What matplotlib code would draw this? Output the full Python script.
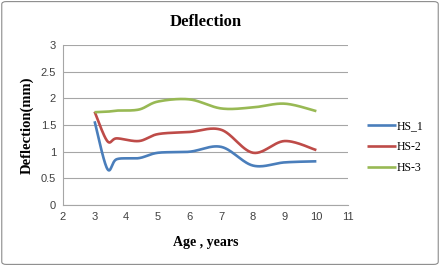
import matplotlib
matplotlib.use('Agg')
import matplotlib.pyplot as plt
import numpy as np
from matplotlib.patches import FancyBboxPatch

age = [3, 3.4, 3.7, 4.4, 5, 6, 7, 8, 9, 10]
hs1 = [1.57, 0.68, 0.86, 0.88, 0.98, 1.0, 1.09, 0.74, 0.80, 0.82]
hs2 = [1.75, 1.20, 1.25, 1.20, 1.33, 1.37, 1.41, 0.98, 1.20, 1.03]
hs3 = [1.74, 1.75, 1.77, 1.79, 1.94, 1.98, 1.81, 1.83, 1.90, 1.76]
names = ['HS_1', 'HS-2', 'HS-3']
colors = ['#4A7EBB', '#BE4B48', '#98B954']


def smooth(x, y, n=30):
  # excel-like smoothed line (catmull-rom through bezier segments)
  x = np.asarray(x, float)
  y = np.asarray(y, float)
  px = np.concatenate([[x[0]], x, [x[-1]]])
  py = np.concatenate([[y[0]], y, [y[-1]]])
  xs, ys = [], []
  t = np.linspace(0, 1, n)
  for i in range(1, len(px) - 2):
    p0 = np.array([px[i], py[i]])
    p3 = np.array([px[i + 1], py[i + 1]])
    p1 = p0 + (p3 - np.array([px[i - 1], py[i - 1]])) / 6
    p2 = p3 - (np.array([px[i + 2], py[i + 2]]) - p0) / 6
    b = ((1 - t) ** 3)[:, None] * p0 + (3 * (1 - t) ** 2 * t)[:, None] * p1 \
        + (3 * (1 - t) * t ** 2)[:, None] * p2 + (t ** 3)[:, None] * p3
    xs.append(b[:, 0])
    ys.append(b[:, 1])
  return np.concatenate(xs), np.concatenate(ys)


fig = plt.figure(figsize=(4.4, 2.66), dpi=100)
fig.patches.append(FancyBboxPatch((0.004, 0.006), 0.992, 0.988,
                                  boxstyle='round,pad=0,rounding_size=0.01',
                                  transform=fig.transFigure, fill=False,
                                  ec='#8c8c8c', lw=0.8))
ax = fig.add_axes([0.143, 0.229, 0.648, 0.602])

for vals, name, c in zip([hs1, hs2, hs3], names, colors):
  sx, sy = smooth(age, vals)
  ax.plot(sx, sy, color=c, lw=1.9, label=name, solid_capstyle='butt')

ax.set_xlim(2, 11)
ax.set_ylim(0, 3)
ax.set_xticks(range(2, 12))
ax.set_yticks([0, 0.5, 1, 1.5, 2, 2.5, 3])
ax.set_yticklabels(['0', '0.5', '1', '1.5', '2', '2.5', '3'])
ax.yaxis.grid(True, color='#a6a6a6', lw=0.8)
ax.set_axisbelow(True)
for s in ['top', 'right']:
  ax.spines[s].set_visible(False)
for s in ['left', 'bottom']:
  ax.spines[s].set_color('#a6a6a6')
  ax.spines[s].set_linewidth(0.8)
ax.tick_params(length=0, labelsize=8, labelcolor='#404040', pad=5)
for lab in ax.get_xticklabels() + ax.get_yticklabels():
  lab.set_family('Liberation Sans')

ax.set_title('Deflection', family='Liberation Serif', fontweight='bold',
             fontsize=12, pad=14)
ax.set_xlabel('Age , years', family='Liberation Serif', fontweight='bold',
              fontsize=10, labelpad=10)
ax.set_ylabel('Deflection(mm)', family='Liberation Serif', fontweight='bold',
              fontsize=10.5, labelpad=5)

leg = ax.legend(loc='center left', bbox_to_anchor=(1.03, 0.36), frameon=False,
                prop={'family': 'Liberation Serif', 'size': 8.5},
                handlelength=2.4, handletextpad=0.1, labelspacing=0.75)

fig.savefig('out.png', dpi=100)
